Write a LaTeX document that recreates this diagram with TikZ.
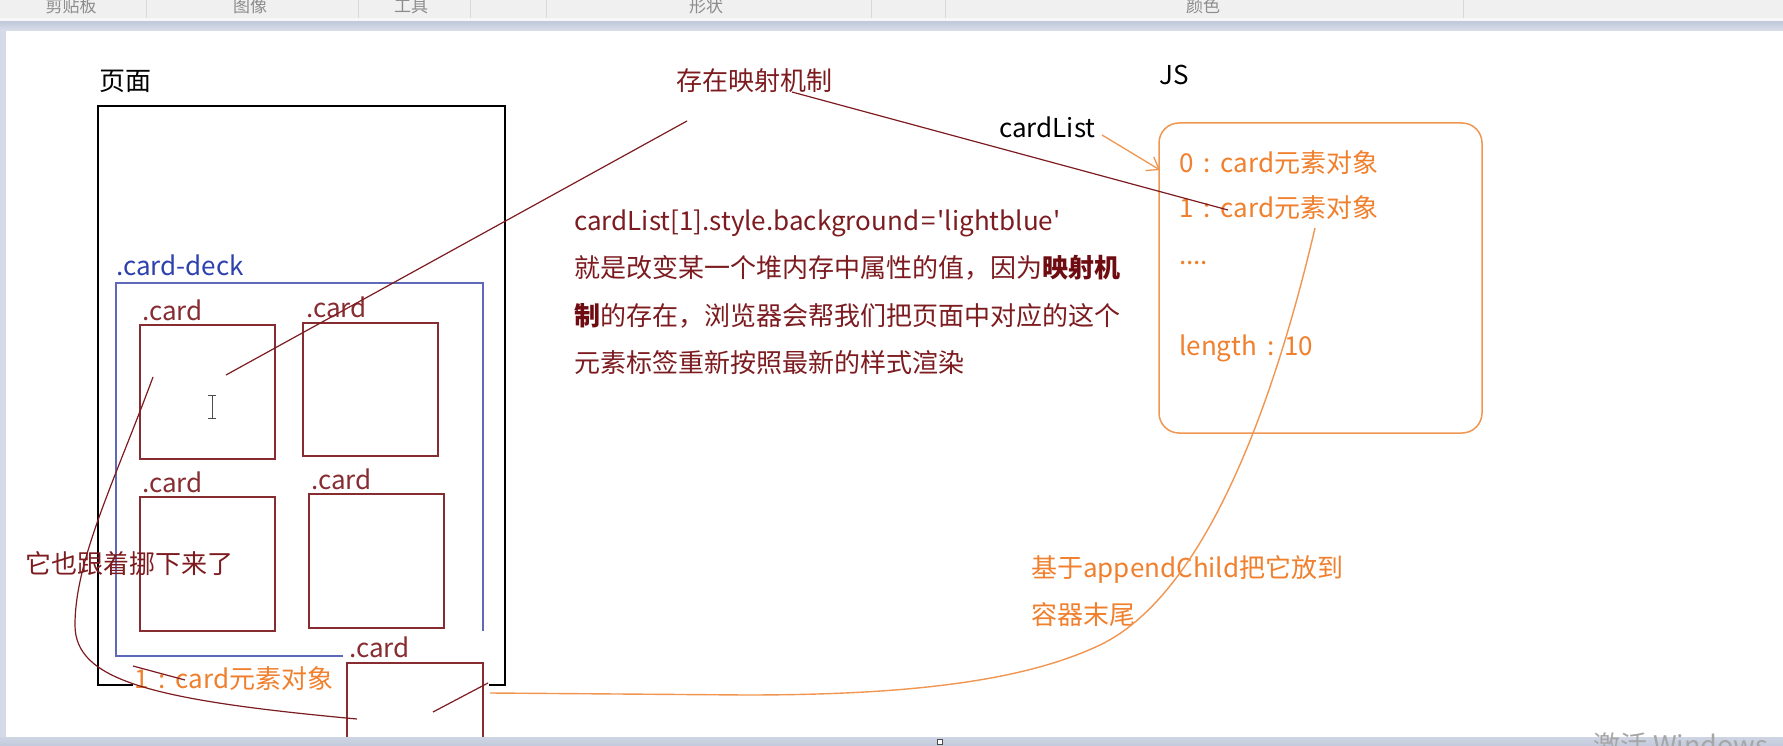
\documentclass[tikz,border=0pt]{standalone}
\usepackage{fontspec}
\setmainfont{Noto Sans CJK SC}[Ligatures=TeXOff]
\usetikzlibrary{arrows.meta}
\definecolor{dred}{RGB}{125,28,32}
\definecolor{dredb}{RGB}{110,12,18}
\definecolor{cardc}{RGB}{135,45,50}
\definecolor{deckc}{RGB}{95,105,185}
\definecolor{decktxt}{RGB}{45,65,175}
\definecolor{org}{RGB}{240,128,45}
\definecolor{orgline}{RGB}{240,150,80}
\definecolor{barc}{RGB}{194,202,220}
\definecolor{toolc}{RGB}{240,240,240}
\newcommand\myfs[1]{\fontsize{#1}{#1}\selectfont}
\newcommand\mycolon{\hspace{10pt}:\hspace{10pt}}
\tikzset{
  txt/.style={inner sep=0pt, anchor=base west, font=\myfs{26}},
  cardbox/.style={draw=cardc, line width=1.8pt},
  cardlbl/.style={txt, text=cardc},
  redline/.style={draw=dred, line width=1.2pt},
  orgcurve/.style={draw=orgline, line width=1.4pt},
  toollbl/.style={inner sep=0pt, anchor=base, font=\myfs{17}, text=black!45},
  sep/.style={draw=black!15, line width=1pt}
}
\begin{document}
\begin{tikzpicture}[x=1pt,y=-1pt]
\useasboundingbox (0,0) rectangle (1783,746);
\fill[white] (0,0) rectangle (1783,746);
% window chrome
\fill[toolc] (0,0) rectangle (1783,18);
\foreach \xx in {146,358,470,546,871,945,1463} \draw[sep] (\xx,0) -- (\xx,18);
\node[toollbl] (t1) at (71,13) {剪贴板};
\node[toollbl] (t2) at (250,13) {图像};
\node[toollbl] (t3) at (411,13) {工具};
\node[toollbl] (t4) at (706,13) {形状};
\node[toollbl] (t5) at (1203,13) {颜色};
\fill[black!3] (0,18) rectangle (1783,22);
\shade[top color=barc, bottom color=barc!60] (0,22) rectangle (1783,31);
\fill[barc!70] (0,31) rectangle (6,737);

% page frame
\node[txt] (page) at (99,91) {页面};
\draw[black, line width=1.8pt] (133,685) -- (98,685) -- (98,106) -- (505,106) -- (505,685) -- (489,685);

% card-deck
\node[txt, text=decktxt] (decklbl) at (116,275) {.card-deck};
\draw[deckc, line width=1.6pt] (343,656) -- (116,656) -- (116,283) -- (483,283) -- (483,631);

% cards
\draw[cardbox] (140,325) rectangle (275,459);
\node[cardlbl] (c1) at (142,320) {.card};
\draw[cardbox] (303,323) rectangle (438,456);
\node[cardlbl] (c2) at (306,317) {.card};
\draw[cardbox] (140,497) rectangle (275,631);
\node[cardlbl] (c3) at (142,492) {.card};
\draw[cardbox] (309,494) rectangle (444,628);
\node[cardlbl] (c4) at (311,489) {.card};
\draw[cardbox] (347,750) -- (347,663) -- (483,663) -- (483,750);
\node[cardlbl] (c5) at (349,657) {.card};

% cursor
\draw[black!70, line width=1pt] (208,395) -- (216,395) (212,395) -- (212,418) (208,418) -- (216,418);

% top texts
\node[txt, text=dred] (map) at (676,91) {存在映射机制};
\node[txt, text=black] (js) at (1159,85) {JS};
\node[txt, text=black] (cl) at (999,138) {cardList};

% paragraph
\node[txt, text=dred] (p1) at (574,230) {cardList[1].style.background\hspace{2pt}=\hspace{2pt}'lightblue'};
\node[txt, text=dred] (p2) at (574,277) {就是改变某一个堆内存中属性的值，因为\textbf{\color{dredb}映射机}};
\node[txt, text=dred] (p3) at (574,325) {\textbf{\color{dredb}制}的存在，浏览器会帮我们把页面中对应的这个};
\node[txt, text=dred] (p4) at (574,372) {元素标签重新按照最新的样式渲染};

% JS box
\draw[orgline, line width=1.5pt, rounded corners=20pt] (1159,123) rectangle (1482,433);
\node[txt, text=org] (i0) at (1179,173) {0\mycolon card元素对象};
\node[txt, text=org] (i1) at (1179,218) {1\mycolon card元素对象};
\node[txt, text=org] (idots) at (1179,265) {....};
\node[txt, text=org] (ilen) at (1179,355) {length\mycolon 10};

% left texts
\node[txt, text=dred] (also) at (25,573) {它也跟着挪下来了};
\node[txt, text=org] (one) at (134,688) {1\mycolon card元素对象};

% bottom right texts
\node[txt, text=org] (app1) at (1031,577) {基于appendChild把它放到};
\node[txt, text=org] (app2) at (1031,624) {容器末尾};

% connectors
\coordinate (a1) at (687,121);
\coordinate (a2) at (226,375);
\draw[redline] (a1) -- (a2);
\coordinate (b1) at (792,92);
\coordinate (b2) at (1228,210);
\draw[redline] (b1) -- (b2);
\coordinate (cls) at (1102,135);
\coordinate (clt) at (1160,170);
\draw[orgline, line width=1.3pt, -{Straight Barb[length=11pt,width=16pt]}] (cls) -- (clt);
\coordinate (s1) at (433,712);
\coordinate (s2) at (488,683);
\draw[redline] (s1) -- (s2);
\coordinate (u1) at (133,666);
\coordinate (u2) at (185,680);
\draw[redline] (u1) -- (u2);
\coordinate (lc0) at (153,377);
\coordinate (lc1) at (75,625);
\coordinate (lc2) at (357,719);
\draw[redline] (lc0) .. controls (115,480) and (75,560) .. (lc1)
  .. controls (75,680) and (150,700) .. (lc2);
\coordinate (oc0) at (1315,228);
\coordinate (oc1) at (1100,645);
\coordinate (oc2) at (745,695);
\coordinate (oc3) at (490,693);
\draw[orgcurve] (oc0) .. controls (1270,420) and (1200,597) .. (oc1)
  .. controls (1020,683) and (900,695) .. (oc2) -- (oc3);

% bottom bar
\shade[top color=barc!80, bottom color=barc] (0,737) rectangle (1783,746);
\draw[black!70, fill=white, line width=0.8pt] (937,739) rectangle (942,744);
\node[inner sep=0pt, anchor=base west, font=\myfs{27}, text=black!35] (wm) at (1593,755) {激活 Windows};
\end{tikzpicture}
\end{document}
